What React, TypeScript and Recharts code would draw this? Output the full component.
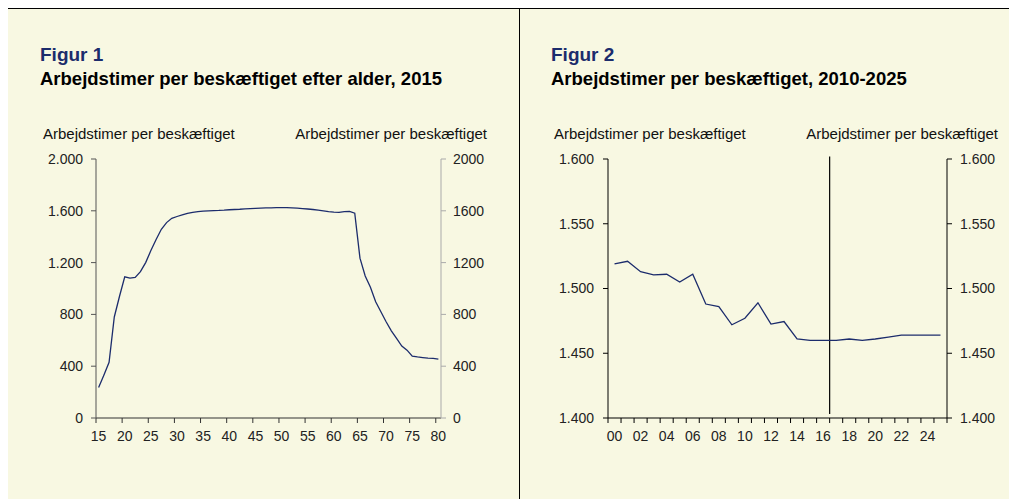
import React from 'react';
import { LineChart, Line, XAxis, YAxis, ReferenceLine } from 'recharts';

// Figur 1: hours per employed person by age, 2015
const ages = [
  15, 16, 17, 18, 19, 20, 21, 22, 23, 24, 25, 26, 27, 28, 29, 30, 31, 32, 33, 34, 35, 36,
  37, 38, 39, 40, 41, 42, 43, 44, 45, 46, 47, 48, 49, 50, 51, 52, 53, 54, 55, 56, 57, 58,
  59, 60, 61, 62, 63, 64, 65, 66, 67, 68, 69, 70, 71, 72, 73, 74, 75, 76, 77, 78, 79, 80,
];
const hoursByAge = [
  235, 330, 430, 780, 940, 1090, 1080, 1086, 1130, 1200, 1293, 1378, 1457, 1509, 1542, 1556,
  1568, 1580, 1588, 1594, 1598, 1600, 1602, 1603, 1605, 1608, 1610, 1612, 1615, 1617, 1619,
  1621, 1622, 1623, 1624, 1625, 1624, 1622, 1620, 1617, 1614, 1610, 1605, 1600, 1594, 1589,
  1588, 1593, 1595, 1582, 1234, 1097, 1009, 898, 821, 743, 673, 614, 555, 524, 478, 472,
  467, 462, 460, 454,
];
const ageTicks = [15, 20, 25, 30, 35, 40, 45, 50, 55, 60, 65, 70, 75, 80];
const fig1YTicks = [0, 400, 800, 1200, 1600, 2000];

// Figur 2: hours per employed person, 2000-2025
const years = [
  2000, 2001, 2002, 2003, 2004, 2005, 2006, 2007, 2008, 2009, 2010, 2011, 2012, 2013, 2014,
  2015, 2016, 2017, 2018, 2019, 2020, 2021, 2022, 2023, 2024, 2025,
];
const hoursByYear = [
  1519, 1521, 1513, 1510.5, 1511, 1505, 1511, 1488, 1486, 1472, 1477, 1489, 1472.5, 1474.5,
  1461, 1460, 1460, 1460, 1461, 1460, 1461, 1462.5, 1464, 1464, 1464, 1464,
];
const yearTicks = [
  2000, 2001, 2002, 2003, 2004, 2005, 2006, 2007, 2008, 2009, 2010, 2011, 2012, 2013, 2014,
  2015, 2016, 2017, 2018, 2019, 2020, 2021, 2022, 2023, 2024, 2025, 2026,
];
const fig2YTicks = [1400, 1450, 1500, 1550, 1600];
const forecastStart = 2017;

const CREAM = '#f8f8e2';
const NAVY = '#1c2c6c';
const FONT = '"Liberation Sans", Arial, sans-serif';

// points sit in the middle of each category slot, as in the spreadsheet original
const fig1Data = ages.map((a, i) => ({ x: a + 0.5, hours: hoursByAge[i] }));
const fig2Data = years.map((y, i) => ({ x: y + 0.5, hours: hoursByYear[i] }));

const dotted = (v: number) =>
  v >= 1000 ? `${Math.floor(v / 1000)}.${String(v % 1000).padStart(3, '0')}` : String(v);

const AgeTick = (props: any) => {
  const { x, y, payload } = props;
  return (
    <text x={x + 2.6} y={y} dy="0.71em" textAnchor="middle" fontSize={14} fill="#222">
      {payload.value}
    </text>
  );
};

const YearTick = (props: any) => {
  const { x, y, payload } = props;
  const v = payload.value as number;
  if (v % 2 !== 0 || v > 2025) return <g />;
  return (
    <text x={x + 6.5} y={y} dy="0.71em" textAnchor="middle" fontSize={14} fill="#222">
      {String(v % 100).padStart(2, '0')}
    </text>
  );
};

const tickStyle = { fontSize: 14, fill: '#222' };
const chartMargin = { top: 150, right: 17, bottom: 51, left: 0 };

function Titles({ left, num, title, axisRight }: { left: number; num: string; title: string; axisRight: number }) {
  return (
    <>
      <div style={{ position: 'absolute', left, top: 36, fontSize: 19, lineHeight: '19px', fontWeight: 'bold', color: NAVY }}>
        Figur {num}
      </div>
      <div style={{ position: 'absolute', left, top: 61, fontSize: 18.5, lineHeight: '18.5px', fontWeight: 'bold', color: '#000', whiteSpace: 'nowrap' }}>
        {title}
      </div>
      <div style={{ position: 'absolute', left: left + 3, top: 117, fontSize: 15, lineHeight: '15px', color: '#111', whiteSpace: 'nowrap' }}>
        Arbejdstimer per beskæftiget
      </div>
      <div style={{ position: 'absolute', right: axisRight, top: 117, fontSize: 15, lineHeight: '15px', color: '#111', whiteSpace: 'nowrap' }}>
        Arbejdstimer per beskæftiget
      </div>
    </>
  );
}

export default function App() {
  return (
    <div
      style={{
        position: 'relative',
        width: 1009,
        height: 490,
        background: CREAM,
        borderTop: '1px solid #000',
        fontFamily: FONT,
        overflow: 'hidden',
      }}
    >
      <div style={{ position: 'absolute', left: 511, top: 0, width: 1, height: 490, background: '#000' }} />

      <Titles left={32} num="1" title="Arbejdstimer per beskæftiget efter alder, 2015" axisRight={530} />
      <Titles left={543} num="2" title="Arbejdstimer per beskæftiget, 2010-2025" axisRight={19} />

      <div style={{ position: 'absolute', left: 0, top: 0 }}>
        <LineChart width={510} height={490} data={fig1Data} margin={chartMargin} style={{ fontFamily: FONT }}>
          <XAxis
            dataKey="x"
            type="number"
            domain={[15, 81]}
            ticks={ageTicks}
            interval={0}
            height={30}
            tickSize={5}
            tickMargin={8}
            tick={<AgeTick />}
            axisLine={{ stroke: '#333' }}
            tickLine={{ stroke: '#333' }}
          />
          <YAxis
            yAxisId="left"
            domain={[0, 2000]}
            ticks={fig1YTicks}
            interval={0}
            width={88}
            tickSize={5}
            tickMargin={8}
            tickFormatter={dotted}
            tick={tickStyle}
            axisLine={{ stroke: '#555' }}
            tickLine={{ stroke: '#555' }}
          />
          <YAxis
            yAxisId="right"
            orientation="right"
            domain={[0, 2000]}
            allowDataOverflow
            ticks={fig1YTicks}
            interval={0}
            width={60}
            tickSize={5}
            tickMargin={7}
            tick={tickStyle}
            axisLine={{ stroke: '#aaa' }}
            tickLine={{ stroke: '#aaa' }}
          />
          <Line
            yAxisId="left"
            dataKey="hours"
            type="linear"
            stroke={NAVY}
            strokeWidth={1.3}
            dot={false}
            isAnimationActive={false}
          />
        </LineChart>
      </div>

      <div style={{ position: 'absolute', left: 512, top: 0 }}>
        <LineChart width={497} height={490} data={fig2Data} margin={{ ...chartMargin, right: 10 }} style={{ fontFamily: FONT }}>
          <XAxis
            dataKey="x"
            type="number"
            domain={[2000, 2026]}
            ticks={yearTicks}
            interval={0}
            height={30}
            tickSize={5}
            tickMargin={8}
            tick={<YearTick />}
            axisLine={{ stroke: '#000' }}
            tickLine={{ stroke: '#000' }}
          />
          <YAxis
            yAxisId="left"
            domain={[1400, 1600]}
            ticks={fig2YTicks}
            interval={0}
            width={88}
            tickSize={5}
            tickMargin={9}
            tickFormatter={dotted}
            tick={tickStyle}
            axisLine={{ stroke: '#000' }}
            tickLine={{ stroke: '#000' }}
          />
          <YAxis
            yAxisId="right"
            orientation="right"
            domain={[1400, 1600]}
            allowDataOverflow
            ticks={fig2YTicks}
            interval={0}
            width={60}
            tickSize={5}
            tickMargin={8}
            tickFormatter={dotted}
            tick={tickStyle}
            axisLine={{ stroke: '#000' }}
            tickLine={{ stroke: '#000' }}
          />
          <ReferenceLine
            yAxisId="left"
            segment={[
              { x: forecastStart, y: 1602 },
              { x: forecastStart, y: 1403 },
            ]}
            stroke="#000"
            strokeWidth={1.2}
            ifOverflow="visible"
          />
          <Line
            yAxisId="left"
            dataKey="hours"
            type="linear"
            stroke={NAVY}
            strokeWidth={1.3}
            dot={false}
            isAnimationActive={false}
          />
        </LineChart>
      </div>
    </div>
  );
}
